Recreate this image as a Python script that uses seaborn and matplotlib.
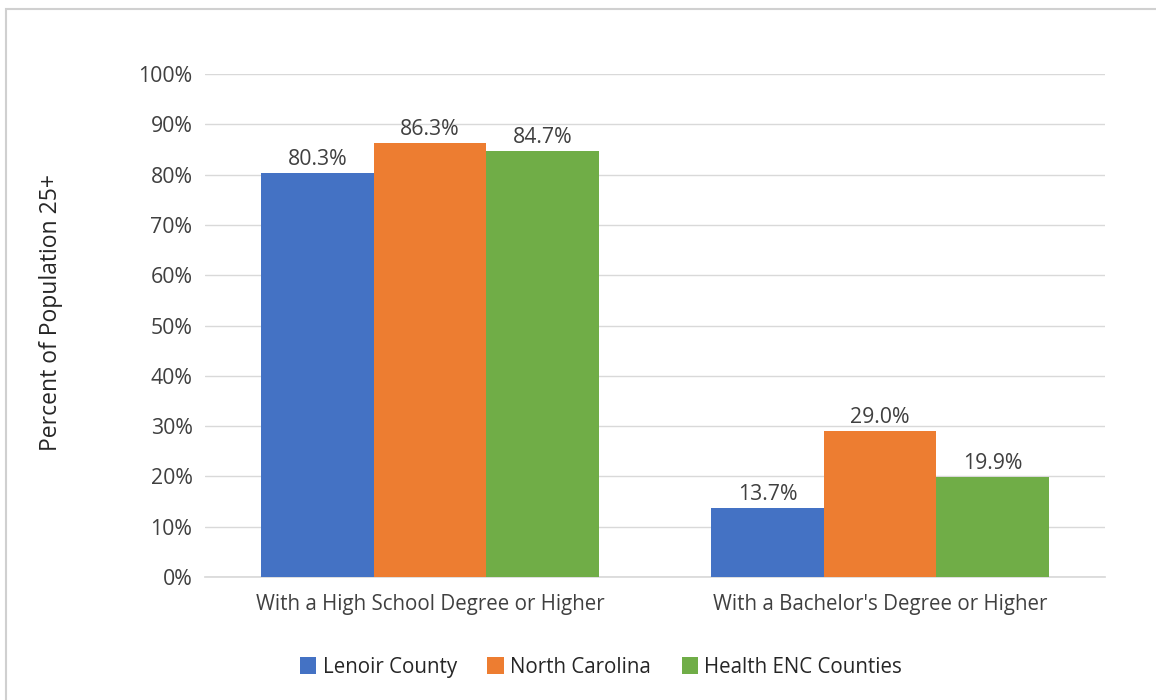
import matplotlib
matplotlib.use("Agg")
import matplotlib.pyplot as plt
from matplotlib.patches import Rectangle
from matplotlib.ticker import FuncFormatter, MultipleLocator
import seaborn as sns
import pandas as pd

categories = ["With a High School Degree or Higher", "With a Bachelor's Degree or Higher"]
regions = ["Lenoir County", "North Carolina", "Health ENC Counties"]
lenoir = [80.3, 13.7]
north_carolina = [86.3, 29.0]
health_enc = [84.7, 19.9]
colors = ["#4472C4", "#ED7D31", "#70AD47"]

rows = []
for region, vals in zip(regions, [lenoir, north_carolina, health_enc]):
    for cat, v in zip(categories, vals):
        rows.append({"category": cat, "region": region, "value": v})
df = pd.DataFrame(rows)

sns.set_theme(style="white")
plt.rcParams["font.family"] = ["Open Sans", "DejaVu Sans"]
text_color = "#404040"
fs_text = 14.8
fs_num = 15.3

fig = plt.figure(figsize=(11.56, 7.0), dpi=100)
ax = fig.add_axes([0.1773, 0.1757, 0.7786, 0.7186])

sns.barplot(data=df, x="category", y="value", hue="region", hue_order=regions,
            order=categories, palette=colors, width=0.75, saturation=1,
            edgecolor="none", ax=ax, legend=True, zorder=3)

ax.set_xlim(-0.5, 1.5)
ax.set_ylim(0, 100)
ax.yaxis.set_major_locator(MultipleLocator(10))
ax.yaxis.set_major_formatter(FuncFormatter(lambda v, p: f"{v:.0f}%"))
ax.grid(axis="y", color="#d9d9d9", linewidth=1, zorder=0)
for s in ["top", "right", "left"]:
    ax.spines[s].set_visible(False)
ax.spines["bottom"].set_color("#d9d9d9")
ax.tick_params(axis="both", length=0, colors=text_color)
ax.tick_params(axis="y", pad=9, labelsize=fs_num)
ax.tick_params(axis="x", pad=12, labelsize=fs_text)
ax.set_xlabel("")
ax.set_ylabel("Percent of Population 25+", fontsize=16.5, color="#262626")
ax.yaxis.set_label_coords(-0.158, 0.525)

for cont in ax.containers:
    ax.bar_label(cont, labels=[f"{v:.1f}%" for v in cont.datavalues],
                 fontsize=fs_num, color=text_color, padding=2)

handles, labels = ax.get_legend_handles_labels()
ax.legend(handles, labels, loc="center", bbox_to_anchor=(0.44, -0.18),
          ncol=3, frameon=False, fontsize=fs_text, handlelength=0.8, handleheight=0.9,
          handletextpad=0.3, columnspacing=1.5, labelcolor="#262626")

# outer chart border
fig.patches.append(Rectangle((6 / 1156, -0.05), 1.2, 1 - 9 / 700 + 0.05,
                             transform=fig.transFigure, fill=False,
                             edgecolor="#d0d0d0", linewidth=1.5))

fig.savefig("out.png", dpi=100)
